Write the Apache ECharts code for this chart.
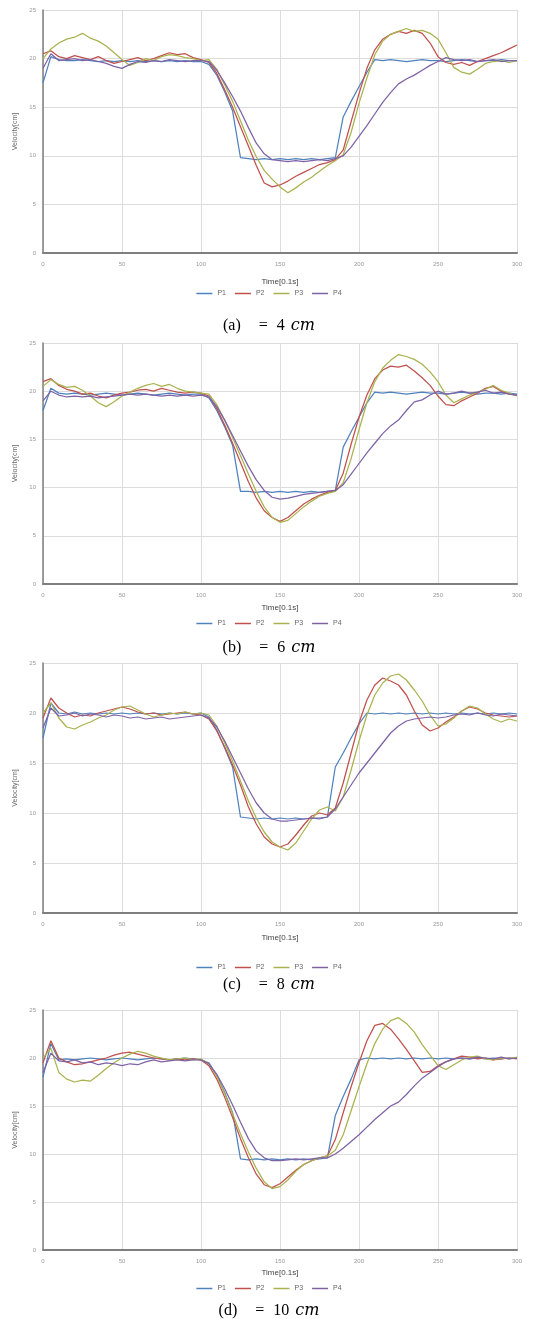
<!DOCTYPE html>
<html><head><meta charset="utf-8">
<script src="https://cdn.jsdelivr.net/npm/echarts@6/dist/echarts.min.js"></script>
<style>html,body{margin:0;padding:0;background:#fff}#c{width:538px;height:1319px}</style>
</head><body><div id="c"></div>
<script>
const times=[0,5,10,15,20,25,30,35,40,45,50,55,60,65,70,75,80,85,90,95,100,105,110,115,120,125,130,135,140,145,150,155,160,165,170,175,180,185,190,195,200,205,210,215,220,225,230,235,240,245,250,255,260,265,270,275,280,285,290,295,300];
const seriesNames=['P1','P2','P3','P4'];
const xTicks=[0,50,100,150,200,250,300];
const yTicks=[0,5,10,15,20,25];
const captions=[['(a)','4'],['(b)','6'],['(c)','8'],['(d)','10']];

// panel (a) 4 cm
const a_P1=[17.5,20.2,19.9,19.8,19.8,19.9,19.8,19.7,19.8,19.7,19.8,19.7,19.8,19.7,19.8,19.7,19.8,19.7,19.8,19.7,19.7,19.4,18.3,16.6,14.6,9.8,9.7,9.6,9.7,9.6,9.7,9.6,9.7,9.6,9.7,9.6,9.7,9.8,14.0,15.6,17.1,18.6,19.9,19.8,19.9,19.8,19.7,19.8,19.9,19.8,19.8,19.7,19.8,19.9,19.8,19.7,19.8,19.8,19.9,19.8,19.8];
const a_P2=[20.5,20.8,20.2,20.0,20.3,20.1,19.9,20.2,19.8,19.5,19.7,19.9,20.1,19.8,20.0,20.3,20.6,20.4,20.5,20.1,19.9,19.6,18.5,16.8,15.0,13.0,11.0,9.0,7.2,6.8,7.0,7.4,7.9,8.3,8.7,9.1,9.3,9.6,10.6,13.5,16.4,19.0,20.9,22.0,22.5,22.8,22.6,22.9,22.6,21.6,20.2,19.6,19.4,19.6,19.3,19.7,20.0,20.3,20.6,21.0,21.4];
const a_P3=[20.0,21.0,21.6,22.0,22.2,22.6,22.1,21.8,21.3,20.6,19.9,19.3,19.6,20.0,19.8,20.2,20.4,20.3,20.1,20.0,19.8,19.9,18.9,17.3,15.6,13.6,11.6,9.9,8.5,7.6,6.8,6.2,6.7,7.3,7.8,8.4,9.0,9.5,10.1,12.4,15.4,18.0,20.4,21.8,22.5,22.8,23.1,22.8,22.9,22.6,22.0,20.6,19.1,18.6,18.4,18.9,19.5,19.7,19.8,19.6,19.8];
const a_P4=[19.0,20.5,19.8,19.9,20.0,19.8,19.9,19.7,19.5,19.2,19.0,19.4,19.7,19.6,19.8,19.7,19.9,19.8,19.7,19.8,19.8,19.7,18.8,17.5,16.1,14.6,12.9,11.3,10.2,9.6,9.5,9.4,9.5,9.4,9.5,9.6,9.5,9.7,10.0,10.9,12.0,13.1,14.3,15.5,16.5,17.4,17.9,18.3,18.8,19.3,19.7,20.1,19.9,19.8,19.9,19.7,19.8,19.9,19.7,19.8,19.8];

// panel (b) 6 cm
const b_P1=[18.0,20.3,19.8,19.7,19.8,19.7,19.6,19.7,19.8,19.7,19.6,19.7,19.8,19.7,19.6,19.7,19.8,19.7,19.6,19.7,19.7,19.3,18.0,16.3,14.4,9.6,9.6,9.5,9.6,9.5,9.6,9.5,9.6,9.5,9.6,9.5,9.6,9.7,14.2,15.8,17.3,18.8,19.9,19.8,19.9,19.8,19.7,19.8,19.9,19.8,19.8,19.7,19.8,19.9,19.8,19.7,19.8,19.8,19.7,19.8,19.7];
const b_P2=[21.0,21.3,20.6,20.2,20.0,19.7,19.8,19.5,19.3,19.6,19.8,19.9,20.1,20.2,20.0,20.3,20.1,19.9,19.8,19.9,19.8,19.5,18.2,16.5,14.6,12.6,10.6,8.9,7.6,6.9,6.5,6.9,7.6,8.3,8.8,9.2,9.5,9.7,11.5,14.5,17.3,19.6,21.3,22.2,22.6,22.5,22.7,22.1,21.4,20.6,19.5,18.6,18.5,19.0,19.4,19.8,20.3,20.5,20.0,19.7,19.6];
const b_P3=[20.5,21.2,20.7,20.4,20.5,20.1,19.5,18.8,18.4,18.9,19.5,19.9,20.3,20.6,20.8,20.5,20.7,20.3,20.0,19.9,19.8,19.7,18.6,17.0,15.2,13.3,11.4,9.6,8.0,6.9,6.4,6.6,7.3,8.0,8.6,9.1,9.4,9.6,10.5,13.0,16.0,18.8,21.0,22.4,23.2,23.8,23.6,23.3,22.8,22.0,21.0,19.6,18.8,19.2,19.6,19.9,20.2,20.6,20.1,19.8,19.5];
const b_P4=[19.0,20.0,19.6,19.4,19.5,19.4,19.5,19.3,19.4,19.5,19.6,19.7,19.6,19.7,19.6,19.5,19.6,19.5,19.6,19.5,19.6,19.4,18.4,17.0,15.4,13.8,12.2,10.8,9.7,9.0,8.8,8.9,9.1,9.3,9.4,9.5,9.6,9.7,10.3,11.4,12.5,13.6,14.6,15.6,16.4,17.0,18.0,18.9,19.1,19.6,20.0,19.7,19.8,20.0,19.8,19.9,20.1,19.8,19.9,19.7,19.6];

// panel (c) 8 cm
const c_P1=[17.5,21.0,20.0,19.9,20.1,19.9,20.0,19.9,20.0,19.9,20.0,19.9,20.0,19.9,20.0,19.9,20.0,19.9,20.0,19.9,20.0,19.6,18.3,16.5,14.6,9.6,9.5,9.4,9.5,9.4,9.5,9.4,9.5,9.4,9.5,9.4,9.6,14.6,16.0,17.5,18.9,20.0,19.9,20.0,19.9,20.0,19.9,20.0,19.9,20.0,19.9,20.0,19.9,20.0,19.9,20.0,19.9,20.0,19.9,20.0,19.9];
const c_P2=[19.5,21.5,20.5,20.0,19.6,19.8,19.7,20.0,20.2,20.4,20.6,20.4,20.1,19.9,20.0,19.8,19.9,20.0,20.1,19.9,19.8,19.4,18.2,16.6,14.8,12.8,10.6,8.9,7.6,6.9,6.6,6.9,7.8,8.8,9.7,10.0,9.8,10.5,13.0,16.0,19.0,21.3,22.8,23.5,23.2,22.8,21.8,20.2,18.8,18.2,18.5,19.1,19.6,20.2,20.6,20.4,20.0,19.8,19.7,19.6,19.7];
const c_P3=[20.0,21.0,19.5,18.6,18.4,18.8,19.1,19.5,19.8,20.3,20.6,20.7,20.3,19.9,19.6,19.8,20.0,19.9,20.1,19.9,20.0,19.8,18.7,17.0,15.2,13.2,11.2,9.5,8.1,7.1,6.6,6.3,7.0,8.2,9.4,10.3,10.6,10.2,11.6,14.3,17.2,19.8,21.8,23.0,23.7,23.9,23.3,22.3,21.2,19.8,18.7,18.9,19.5,20.2,20.7,20.5,19.9,19.4,19.1,19.4,19.2];
const c_P4=[18.5,20.5,19.7,19.8,20.0,19.7,19.9,19.8,19.6,19.8,19.7,19.5,19.6,19.4,19.5,19.6,19.4,19.5,19.6,19.7,19.8,19.5,18.6,17.2,15.6,14.0,12.4,11.0,10.0,9.4,9.2,9.2,9.3,9.4,9.5,9.5,9.6,10.4,11.6,12.8,14.0,15.0,16.0,17.0,18.0,18.7,19.2,19.4,19.5,19.6,19.5,19.6,19.8,19.9,19.8,20.0,19.8,19.7,19.9,19.8,19.7];

// panel (d) 10 cm
const d_P1=[18.0,21.5,19.8,19.9,19.8,19.9,20.0,19.9,19.8,19.9,20.0,19.9,19.8,19.9,20.0,19.9,19.8,19.9,20.0,19.9,19.8,19.5,18.2,16.4,14.3,9.5,9.4,9.5,9.4,9.5,9.4,9.5,9.4,9.5,9.4,9.5,9.6,14.0,16.0,17.8,19.8,20.0,19.9,20.0,19.9,20.0,19.9,20.0,19.9,20.0,19.9,20.0,19.9,20.0,19.9,20.0,19.9,20.0,19.9,20.0,20.0];
const d_P2=[19.5,21.8,20.0,19.6,19.3,19.4,19.6,19.8,20.0,20.3,20.5,20.6,20.4,20.2,20.0,19.9,19.8,19.9,19.8,19.9,19.8,19.2,17.8,15.9,13.8,11.6,9.6,7.9,6.8,6.5,6.9,7.6,8.3,8.9,9.3,9.6,9.8,11.5,14.3,17.0,19.5,21.8,23.4,23.6,23.0,22.0,20.9,19.7,18.5,18.6,19.2,19.6,19.9,20.2,20.1,19.9,20.0,19.8,19.9,20.0,19.9];
const d_P3=[20.0,21.0,18.5,17.8,17.5,17.7,17.6,18.2,18.9,19.5,20.0,20.4,20.7,20.5,20.2,20.0,19.8,19.9,20.0,19.8,19.9,19.4,18.1,16.3,14.2,12.1,10.2,8.5,7.1,6.4,6.6,7.3,8.2,8.9,9.3,9.6,9.8,10.4,12.0,14.5,17.0,19.4,21.5,23.0,23.9,24.2,23.6,22.7,21.4,20.3,19.2,18.8,19.3,19.8,20.1,20.2,19.9,19.8,20.0,19.9,20.1];
const d_P4=[18.5,20.5,19.7,19.6,19.8,19.5,19.6,19.3,19.5,19.4,19.2,19.4,19.3,19.6,19.8,19.6,19.7,19.8,19.7,19.8,19.8,19.4,18.3,16.8,15.1,13.3,11.6,10.3,9.6,9.3,9.3,9.4,9.5,9.4,9.5,9.6,9.6,10.0,10.6,11.3,12.0,12.8,13.6,14.3,15.0,15.4,16.2,17.1,17.9,18.5,19.1,19.6,19.9,20.0,19.9,20.1,20.0,19.9,20.1,19.9,20.0];

const panelData=[[a_P1,a_P2,a_P3,a_P4],[b_P1,b_P2,b_P3,b_P4],[c_P1,c_P2,c_P3,c_P4],[d_P1,d_P2,d_P3,d_P4]];

// layout (pixels)
const layout=[
  {top:10,height:243,nameGap:25,legendTop:285,capTop:313},
  {top:343,height:241,nameGap:20,legendTop:615,capTop:635},
  {top:663,height:250,nameGap:21,legendTop:959,capTop:972},
  {top:1010,height:240,nameGap:19,legendTop:1280,capTop:1298}
];
const colors=['#4F81BD','#C0504D','#AAB24E','#7E62A6'];

const grid=[],xAxis=[],yAxis=[],series=[],legend=[],title=[];
layout.forEach((L,i)=>{
  grid.push({left:43,right:21,top:L.top,height:L.height});
  xAxis.push({type:'value',gridIndex:i,min:xTicks[0],max:xTicks[xTicks.length-1],interval:50,
    name:'Time[0.1s]',nameLocation:'middle',nameGap:L.nameGap,
    nameTextStyle:{fontSize:8,color:'#444',fontFamily:'Liberation Sans'},
    axisLine:{lineStyle:{color:'#7f7f7f',width:2}},axisTick:{show:false},
    axisLabel:{fontSize:6,color:'#999',margin:8,fontFamily:'Liberation Sans'},
    splitLine:{show:true,lineStyle:{color:'#dcdcdc',width:1}}});
  yAxis.push({type:'value',gridIndex:i,min:yTicks[0],max:yTicks[yTicks.length-1],interval:5,
    name:'Velocity[cm]',nameLocation:'middle',nameGap:20,nameRotate:90,
    nameTextStyle:{fontSize:7,color:'#666',fontFamily:'Liberation Sans'},
    axisLine:{show:true,lineStyle:{color:'#7f7f7f',width:1.5}},axisTick:{show:false},
    axisLabel:{fontSize:6,color:'#999',margin:7,fontFamily:'Liberation Sans'},
    splitLine:{show:true,lineStyle:{color:'#dcdcdc',width:1}}});
  panelData[i].forEach((arr,k)=>{
    series.push({type:'line',name:seriesNames[k],xAxisIndex:i,yAxisIndex:i,
      data:times.map((t,j)=>[t,arr[j]]),showSymbol:false,symbol:'none',
      lineStyle:{width:1.25,color:colors[k]},itemStyle:{color:colors[k]},z:2+k,animation:false});
  });
  legend.push({data:seriesNames,top:L.legendTop,left:'center',icon:'rect',itemWidth:16,itemHeight:1.5,itemGap:9,
    textStyle:{fontSize:7,color:'#666',fontFamily:'Liberation Sans'},selectedMode:false});
  title.push({left:'center',top:L.capTop,
    text:captions[i][0]+'{s1|}={s2|}'+captions[i][1]+'{s3|}{i|cm}',
    textStyle:{fontSize:16,fontWeight:'normal',color:'#000',fontFamily:'Liberation Serif',
      rich:{s1:{width:18},s2:{width:9},s3:{width:6},
        i:{fontSize:16,fontStyle:'italic',fontFamily:'DejaVu Serif',color:'#000'}}}});
});

const chart=echarts.init(document.getElementById('c'),null,{renderer:'canvas'});
chart.setOption({animation:false,color:colors,grid,xAxis,yAxis,series,legend,title});
</script></body></html>
